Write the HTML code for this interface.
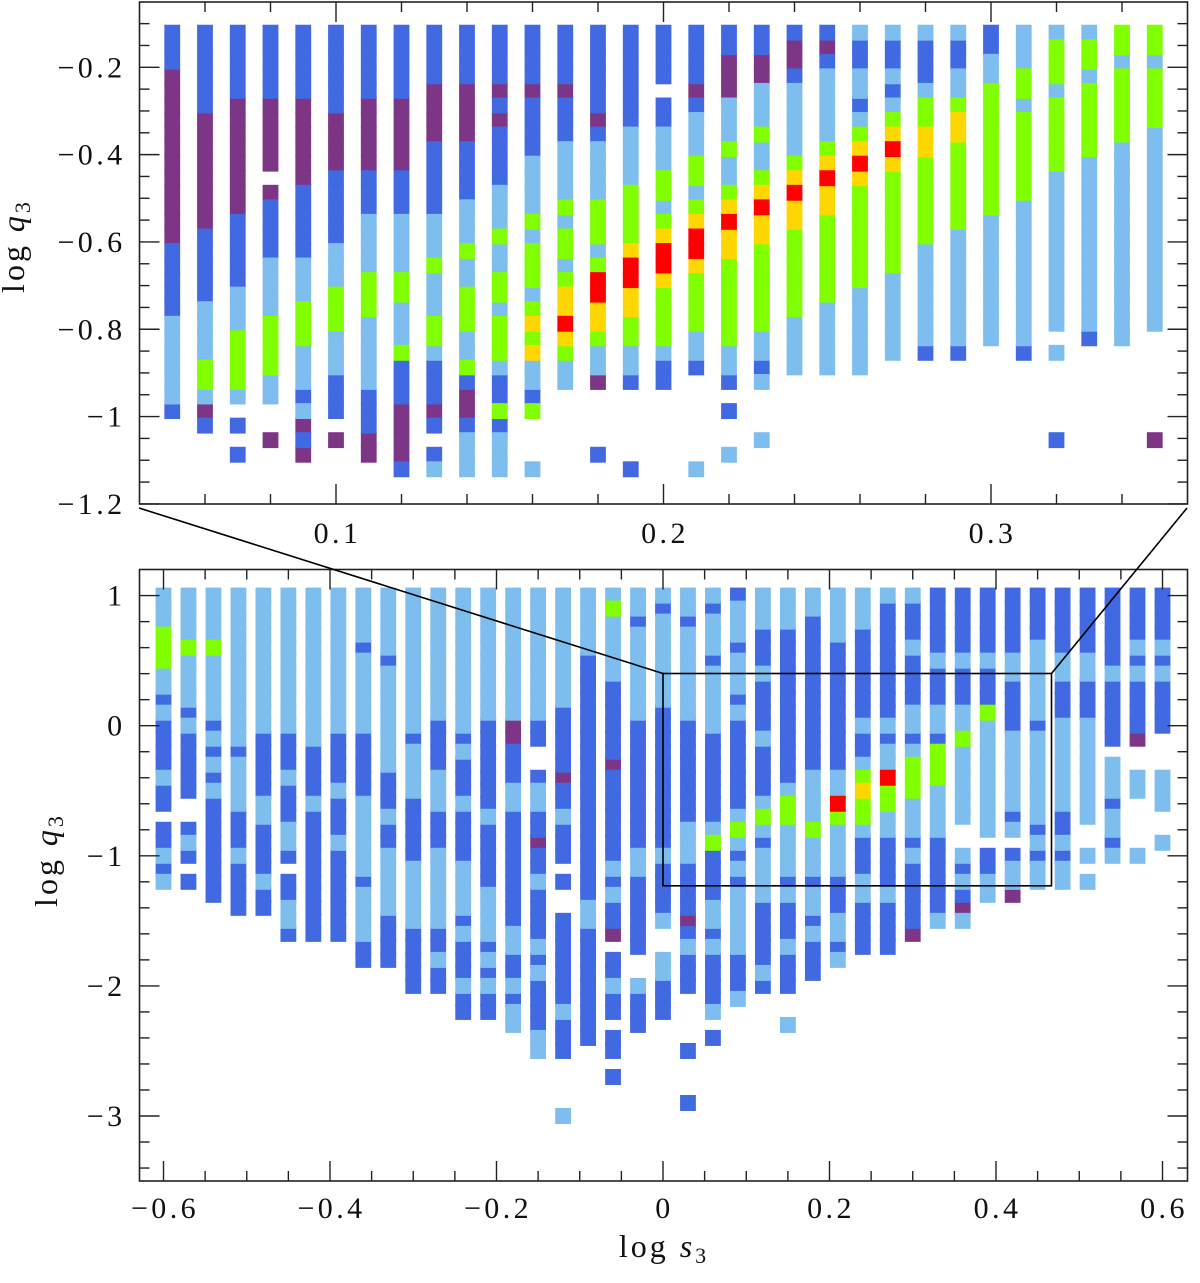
<!DOCTYPE html>
<html lang="en">
<head>
<meta charset="utf-8">
<title>log q3 versus log s3 regime map</title>
<style>
html,body{margin:0;padding:0;background:#fff;}
svg{display:block;}
text{font-family:"Liberation Serif",serif;fill:#111;}
.tick-label{font-size:30px;letter-spacing:3.4px;}
.axis-title{font-size:32px;letter-spacing:3px;}
.sub{font-size:22px;}
</style>
</head>
<body>
<svg id="chart" xmlns="http://www.w3.org/2000/svg" width="1200" height="1283" viewBox="0 0 1200 1283">
  <g id="top-cells"></g>
  <g id="bottom-cells"></g>
  <rect x="139.5" y="2" width="1048" height="502" fill="none" stroke="#222" stroke-width="1.6"/>
  <rect x="139.5" y="569.5" width="1048" height="611.5" fill="none" stroke="#222" stroke-width="1.6"/>
  <g id="top-axes"></g>
  <g id="bottom-axes"></g>
  <rect x="663" y="673.5" width="388.5" height="212.3" fill="none" stroke="#000" stroke-width="1.6"/>
  <line x1="139" y1="508" x2="663" y2="673.5" stroke="#000" stroke-width="1.6"/>
  <line x1="1187" y1="508" x2="1051.5" y2="673.5" stroke="#000" stroke-width="1.6"/>
  <text class="axis-title" transform="translate(24,246) rotate(-90)" text-anchor="middle">log <tspan font-style="italic">q</tspan><tspan class="sub" dy="6">3</tspan></text>
  <text class="axis-title" transform="translate(57,860) rotate(-90)" text-anchor="middle">log <tspan font-style="italic">q</tspan><tspan class="sub" dy="6">3</tspan></text>
  <text class="axis-title" x="664" y="1257" text-anchor="middle">log <tspan font-style="italic">s</tspan><tspan class="sub" dy="6">3</tspan></text>
</svg>
<script>
// class codes: 1 purple, 2 blue, 3 light blue, 4 green, 5 gold, 6 red
// each run: [firstRow, lastRow, classCode]
const topS = [0.05,0.06,0.07,0.08,0.09,0.10,0.11,0.12,0.13,0.14,0.15,0.16,0.17,0.18,0.19,0.20,0.21,0.22,0.23,0.24,0.25,0.26,0.27,0.28,0.29,0.30,0.31,0.32,0.33,0.34,0.35];
const topQ = [-0.1207,-0.1540,-0.1874,-0.2207,-0.2540,-0.2874,-0.3207,-0.3540,-0.3874,-0.4207,-0.4540,-0.4874,-0.5207,-0.5540,-0.5874,-0.6207,-0.6540,-0.6874,-0.7207,-0.7540,-0.7874,-0.8207,-0.8540,-0.8874,-0.9207,-0.9540,-0.9874,-1.0207,-1.0540,-1.0874,-1.1207];
const topRuns = [
[[0,2,2],[3,14,1],[15,19,2],[20,25,3],[26,26,2]],
[[0,5,2],[6,13,1],[14,18,2],[19,22,3],[23,24,4],[25,25,3],[26,26,1],[27,27,2]],
[[0,4,2],[5,12,1],[13,17,2],[18,20,3],[21,24,4],[25,25,3],[27,27,2],[29,29,2]],
[[0,4,2],[5,9,1],[11,11,1],[12,15,2],[16,19,3],[20,23,4],[24,25,3],[28,28,1]],
[[0,4,2],[5,10,1],[11,15,2],[16,18,3],[19,21,4],[22,24,3],[25,25,2],[26,26,3],[27,27,1],[28,28,2],[29,29,1]],
[[0,5,2],[6,9,1],[10,14,2],[15,17,3],[18,20,4],[21,23,3],[24,26,2],[28,28,1]],
[[0,4,2],[5,9,1],[10,12,2],[13,16,3],[17,19,4],[20,24,3],[25,27,2],[28,29,1]],
[[0,4,2],[5,9,1],[10,12,2],[13,16,3],[17,18,4],[19,21,3],[22,22,4],[23,25,2],[26,29,1],[30,30,2]],
[[0,3,2],[4,7,1],[8,12,2],[13,15,3],[16,16,4],[17,19,3],[20,21,4],[22,22,3],[23,25,2],[26,26,1],[27,27,2],[29,29,2],[30,30,3]],
[[0,3,2],[4,7,1],[8,11,2],[12,14,3],[15,15,4],[16,17,3],[18,20,4],[21,22,3],[23,23,4],[24,24,2],[25,26,1],[27,27,2],[28,30,3]],
[[0,3,2],[4,4,1],[5,5,2],[6,6,1],[7,10,2],[11,13,3],[14,14,4],[15,16,3],[17,18,4],[19,19,3],[20,22,4],[23,23,3],[24,25,2],[26,26,4],[27,27,2],[28,30,3]],
[[0,3,2],[4,4,1],[5,8,2],[9,12,3],[13,13,4],[14,14,3],[15,17,4],[18,18,3],[19,19,4],[20,20,5],[21,21,4],[22,22,5],[23,24,3],[25,25,2],[26,26,4],[30,30,3]],
[[0,3,2],[4,4,1],[5,7,2],[8,11,3],[12,12,4],[13,13,3],[14,15,4],[16,16,3],[17,17,4],[18,19,5],[20,20,6],[21,21,5],[22,22,4],[23,24,3]],
[[0,5,2],[6,6,1],[7,7,2],[8,11,3],[12,14,4],[15,15,3],[16,16,4],[17,18,6],[19,20,5],[21,21,4],[22,23,3],[24,24,1],[29,29,2]],
[[0,6,2],[7,10,3],[11,14,4],[15,15,5],[16,17,6],[18,19,5],[20,21,4],[22,23,3],[24,24,2],[30,30,2]],
[[0,3,2],[5,6,2],[7,9,3],[10,11,4],[12,12,3],[13,13,4],[14,14,5],[15,16,6],[17,17,5],[18,21,4],[22,22,3],[23,24,2]],
[[0,3,2],[4,4,1],[5,5,2],[6,8,3],[9,10,4],[11,11,3],[12,12,4],[13,13,5],[14,15,6],[16,16,5],[17,20,4],[21,22,3],[23,23,2],[30,30,3]],
[[0,1,2],[2,4,1],[5,7,3],[8,8,4],[9,10,3],[11,11,4],[12,12,5],[13,13,6],[14,15,5],[16,21,4],[22,23,3],[24,24,2],[26,26,2],[29,29,3]],
[[0,1,2],[2,3,1],[4,6,3],[7,7,4],[8,9,3],[10,10,4],[11,11,5],[12,12,6],[13,14,5],[15,20,4],[21,22,3],[23,23,2],[24,24,3],[28,28,3]],
[[0,0,2],[1,2,1],[3,3,2],[4,8,3],[9,9,4],[10,10,5],[11,11,6],[12,13,5],[14,19,4],[20,23,3]],
[[0,0,2],[1,1,1],[2,2,2],[3,7,3],[8,8,4],[9,9,5],[10,10,6],[11,12,5],[13,18,4],[19,23,3]],
[[0,0,3],[1,2,2],[3,4,3],[5,5,2],[6,6,3],[7,7,4],[8,8,5],[9,9,6],[10,10,5],[11,17,4],[18,23,3]],
[[0,0,3],[1,2,2],[3,3,3],[4,4,2],[5,5,3],[6,6,4],[7,7,5],[8,8,6],[9,9,5],[10,16,4],[17,22,3]],
[[0,0,3],[1,3,2],[4,4,3],[5,6,4],[7,8,5],[9,14,4],[15,21,3],[22,22,2]],
[[0,0,3],[1,2,2],[3,4,3],[5,5,4],[6,7,5],[8,13,4],[14,21,3],[22,22,2]],
[[0,1,2],[2,3,3],[4,12,4],[13,21,3]],
[[0,2,3],[3,4,4],[5,5,3],[6,11,4],[12,21,3],[22,22,2]],
[[0,0,3],[1,3,4],[4,4,3],[5,9,4],[10,20,3],[22,22,3],[28,28,2]],
[[0,0,3],[1,2,4],[3,3,3],[4,8,4],[9,20,3],[21,21,2]],
[[0,1,4],[2,2,3],[3,7,4],[8,21,3]],
[[0,1,4],[2,2,3],[3,6,4],[7,20,3],[28,28,1]]
];

const bottomS = [-0.60,-0.57,-0.54,-0.51,-0.48,-0.45,-0.42,-0.39,-0.36,-0.33,-0.30,-0.27,-0.24,-0.21,-0.18,-0.15,-0.12,-0.09,-0.06,-0.03,0,0.03,0.06,0.09,0.12,0.15,0.18,0.21,0.24,0.27,0.30,0.33,0.36,0.39,0.42,0.45,0.48,0.51,0.54,0.57,0.60];
const bottomQ = [1.0,0.9,0.8,0.7,0.6,0.5,0.4,0.3,0.2,0.1,0,-0.1,-0.2,-0.3,-0.4,-0.5,-0.6,-0.7,-0.8,-0.9,-1.0,-1.1,-1.2,-1.3,-1.4,-1.5,-1.6,-1.7,-1.8,-1.9,-2.0,-2.1,-2.2,-2.3,-2.4,-2.5,-2.6,-2.7,-2.8,-2.9,-3.0];
const bottomRuns = [
[[0,2,3],[3,5,4],[6,7,3],[8,8,2],[9,9,3],[10,13,2],[14,14,3],[15,16,2],[18,19,2],[20,20,3],[21,21,2],[22,22,3]],
[[0,3,3],[4,4,4],[5,8,3],[9,9,2],[10,10,3],[11,15,2],[18,18,2],[19,19,3],[20,20,2],[22,22,2]],
[[0,3,3],[4,4,4],[5,9,3],[10,10,2],[11,11,3],[12,12,2],[13,13,3],[14,14,2],[15,15,3],[16,23,2]],
[[0,11,3],[12,12,2],[13,16,3],[17,19,2],[20,20,3],[21,24,2]],
[[0,10,3],[11,15,2],[16,17,3],[18,21,2],[22,22,3],[23,24,2]],
[[0,10,3],[11,13,2],[14,14,3],[15,17,2],[18,19,3],[20,20,2],[22,23,2],[24,25,3],[26,26,2]],
[[0,11,3],[12,15,2],[16,16,3],[17,26,2]],
[[0,10,3],[11,14,2],[15,15,3],[16,18,2],[19,19,3],[20,26,2]],
[[0,3,3],[4,4,2],[5,10,3],[11,15,2],[16,21,3],[22,22,2],[23,26,3],[27,28,2]],
[[0,4,3],[5,5,2],[6,13,3],[14,16,2],[17,17,3],[18,19,2],[20,24,3],[25,28,2]],
[[0,10,3],[11,11,2],[12,15,3],[16,20,2],[21,25,3],[26,30,2]],
[[0,9,3],[10,13,2],[14,16,3],[17,19,2],[20,25,3],[26,27,2],[28,28,3],[29,30,2]],
[[0,10,3],[11,11,2],[12,12,3],[13,15,2],[16,16,3],[17,20,2],[21,24,3],[25,25,2],[26,26,3],[27,29,2],[30,30,3],[31,32,2]],
[[0,9,3],[10,16,2],[17,17,3],[18,22,2],[23,26,3],[27,27,2],[28,28,3],[29,29,2],[30,30,3],[31,32,2]],
[[0,9,3],[10,11,1],[12,14,2],[15,16,3],[17,25,2],[26,27,3],[28,29,2],[30,30,3],[31,31,2],[32,33,3]],
[[0,9,3],[10,11,2],[14,14,2],[15,16,3],[17,18,2],[19,19,1],[20,21,2],[22,22,3],[23,26,2],[27,27,3],[28,28,2],[29,29,3],[30,33,2],[34,35,3]],
[[0,8,3],[9,13,2],[14,14,1],[15,16,2],[17,17,3],[18,20,2],[22,22,2],[25,31,2],[32,32,3],[33,35,2],[40,40,3]],
[[0,4,3],[5,23,2],[24,25,3],[26,34,2]],
[[0,0,3],[1,1,4],[2,6,3],[7,12,2],[13,13,1],[14,20,2],[21,21,3],[22,22,2],[23,23,3],[24,25,2],[26,26,1],[28,29,2],[30,30,3],[31,32,2],[34,35,2],[37,37,2]],
[[0,1,3],[2,2,2],[3,9,3],[10,19,2],[20,21,3],[22,27,2],[30,30,3],[31,33,2]],
[[0,0,3],[1,1,2],[2,8,3],[9,19,2],[20,20,3],[21,24,2],[25,25,3],[28,29,3],[30,32,2]],
[[0,1,3],[2,2,2],[3,9,3],[10,17,2],[18,20,3],[21,24,2],[25,25,1],[26,26,2],[27,27,3],[28,30,2],[35,35,2],[39,39,2]],
[[0,0,3],[1,1,2],[2,4,3],[5,5,2],[6,10,3],[11,17,2],[18,18,3],[19,19,4],[20,23,2],[24,25,3],[26,26,2],[27,27,3],[28,31,2],[32,32,3],[34,34,2]],
[[0,0,2],[1,3,3],[4,4,2],[5,7,3],[8,8,2],[9,9,3],[10,16,2],[17,17,3],[18,18,4],[19,19,3],[20,20,2],[21,21,3],[22,22,2],[23,27,3],[28,30,2],[31,31,3]],
[[0,2,3],[3,5,2],[6,6,3],[7,10,2],[11,11,3],[12,15,2],[16,16,3],[17,17,4],[18,18,3],[19,19,2],[20,23,3],[24,28,2],[29,29,3],[30,30,2]],
[[0,2,3],[3,14,2],[15,15,3],[16,17,4],[18,21,3],[22,22,2],[23,23,3],[24,26,2],[27,27,3],[28,30,2],[33,33,3]],
[[0,1,3],[2,13,2],[14,17,3],[18,18,4],[19,21,3],[22,22,2],[23,24,3],[25,25,2],[26,26,3],[27,29,2]],
[[0,3,3],[4,13,2],[14,15,3],[16,16,6],[17,17,4],[18,21,3],[22,24,2],[25,26,3],[27,27,2],[28,28,3]],
[[0,2,3],[3,9,2],[10,10,3],[11,12,2],[13,13,3],[14,14,4],[15,15,5],[16,17,4],[18,18,3],[19,21,2],[22,23,3],[24,27,2]],
[[0,0,3],[1,9,2],[10,10,3],[11,11,2],[12,13,3],[14,14,6],[15,16,4],[17,18,3],[19,22,2],[23,23,3],[24,27,2]],
[[0,0,3],[1,3,2],[4,4,3],[5,8,2],[9,10,3],[11,11,2],[12,12,3],[13,15,4],[16,18,3],[19,19,2],[20,20,3],[21,25,2],[26,26,1]],
[[0,4,2],[5,5,3],[6,8,2],[9,10,3],[11,11,2],[12,14,4],[15,18,3],[19,24,2],[25,25,3]],
[[0,4,2],[5,5,3],[6,8,2],[9,10,3],[11,11,4],[12,17,3],[20,20,3],[21,21,2],[22,22,3],[23,23,2],[24,24,1],[25,25,3]],
[[0,4,2],[5,5,3],[6,8,2],[9,9,4],[10,18,3],[20,21,2],[22,23,3]],
[[0,4,2],[5,6,3],[7,10,2],[11,16,3],[17,17,2],[18,18,3],[20,20,2],[21,22,3],[23,23,1]],
[[0,3,2],[4,9,3],[10,10,2],[11,17,3],[18,18,2],[19,19,3],[20,20,2],[21,22,3]],
[[0,4,2],[5,6,3],[7,9,2],[10,16,3],[17,18,2],[19,19,3],[20,20,2],[21,22,3]],
[[0,4,2],[5,6,3],[7,9,2],[10,17,3],[20,20,3],[22,22,3]],
[[0,5,2],[6,6,3],[7,11,2],[13,15,3],[16,16,2],[17,18,3],[19,19,2],[20,20,3]],
[[0,3,2],[4,4,3],[5,5,2],[6,6,3],[7,10,2],[11,11,1],[14,15,3],[20,20,3]],
[[0,3,2],[4,4,3],[5,5,2],[6,6,3],[7,10,2],[14,16,3],[19,19,3]]
];

const topXMajor = [0.1,0.2,0.3];
const topXMinor = [0.06,0.08,0.12,0.14,0.16,0.18,0.22,0.24,0.26,0.28,0.32,0.34];
const topYMajor = [-0.2,-0.4,-0.6,-0.8,-1,-1.2];
const topYMinor = [-0.1,-0.15,-0.25,-0.3,-0.35,-0.45,-0.5,-0.55,-0.65,-0.7,-0.75,-0.85,-0.9,-0.95,-1.05,-1.1,-1.15];
const topXLabels = ['0.1','0.2','0.3'];
const topYLabels = ['\u22120.2','\u22120.4','\u22120.6','\u22120.8','\u22121','\u22121.2'];

const bottomXMajor = [-0.6,-0.4,-0.2,0,0.2,0.4,0.6];
const bottomXMinor = [-0.55,-0.5,-0.45,-0.35,-0.3,-0.25,-0.15,-0.1,-0.05,0.05,0.1,0.15,0.25,0.3,0.35,0.45,0.5,0.55];
const bottomYMajor = [1,0,-1,-2,-3];
const bottomYMinor = [0.8,0.6,0.4,0.2,-0.2,-0.4,-0.6,-0.8,-1.2,-1.4,-1.6,-1.8,-2.2,-2.4,-2.6,-2.8,-3.2,-3.4];
const bottomXLabels = ['\u22120.6','\u22120.4','\u22120.2','0','0.2','0.4','0.6'];
const bottomYLabels = ['1','0','\u22121','\u22122','\u22123'];

const classColors = {1:'#7D3586',2:'#4169E1',3:'#7EBEEE',4:'#7FFF00',5:'#FFD700',6:'#FF0000'};
const drawOrder = [1,2,3,4,5,6];
const SVGNS = 'http://www.w3.org/2000/svg';

const topXScale = v => 139.5 + (v - 0.04) * 3275;
const topYScale = v => 67.3 + (-0.2 - v) * 436.6;
const bottomXScale = v => 663 + v * 832.5;
const bottomYScale = v => 725.7 - v * 130.1;

const topPanel = {left:139.5,right:1187.5,top:2,bottom:504};
const bottomPanel = {left:139.5,right:1187.5,top:569.5,bottom:1181};

function drawCells(groupId, sVals, qVals, runs, xScale, yScale, w, h) {
  const g = document.getElementById(groupId);
  drawOrder.forEach(code => {
    runs.forEach((col, ci) => {
      col.forEach(run => {
        if (run[2] !== code) return;
        for (let r = run[0]; r <= run[1]; r++) {
          const el = document.createElementNS(SVGNS, 'rect');
          el.setAttribute('x', xScale(sVals[ci]) - w / 2);
          el.setAttribute('y', yScale(qVals[r]) - h / 2);
          el.setAttribute('width', w);
          el.setAttribute('height', h);
          el.setAttribute('fill', classColors[code]);
          
          
          g.appendChild(el);
        }
      });
    });
  });
}

function drawTicks(groupId, panel, xScale, yScale, xMajor, xMinor, yMajor, yMinor, xLabels, yLabels, xLabelY) {
  const g = document.getElementById(groupId);
  function segment(x1, y1, x2, y2) {
    const el = document.createElementNS(SVGNS, 'line');
    el.setAttribute('x1', x1);
    el.setAttribute('y1', y1);
    el.setAttribute('x2', x2);
    el.setAttribute('y2', y2);
    el.setAttribute('stroke', '#222');
    el.setAttribute('stroke-width', 1.4);
    
    
    g.appendChild(el);
  }
  xMajor.forEach(v => {
    const x = xScale(v);
    segment(x, panel.top, x, panel.top + 20);
    segment(x, panel.bottom, x, panel.bottom - 20);
  });
  xMinor.forEach(v => {
    const x = xScale(v);
    segment(x, panel.top, x, panel.top + 10);
    segment(x, panel.bottom, x, panel.bottom - 10);
  });
  yMajor.forEach(v => {
    const y = yScale(v);
    segment(panel.left, y, panel.left + 20, y);
    segment(panel.right, y, panel.right - 20, y);
  });
  yMinor.forEach(v => {
    const y = yScale(v);
    segment(panel.left, y, panel.left + 10, y);
    segment(panel.right, y, panel.right - 10, y);
  });
  xMajor.forEach((v, i) => {
    const el = document.createElementNS(SVGNS, 'text');
    el.setAttribute('class', 'tick-label');
    el.setAttribute('x', xScale(v) + 1.5);
    el.setAttribute('y', xLabelY);
    el.setAttribute('text-anchor', 'middle');
    
    
    el.textContent = xLabels[i];
    g.appendChild(el);
  });
  yMajor.forEach((v, i) => {
    const el = document.createElementNS(SVGNS, 'text');
    el.setAttribute('class', 'tick-label');
    el.setAttribute('x', 125.5);
    el.setAttribute('y', yScale(v) + 10);
    el.setAttribute('text-anchor', 'end');
    
    
    el.textContent = yLabels[i];
    g.appendChild(el);
  });
}

drawCells('top-cells', topS, topQ, topRuns, topXScale, topYScale, 15.8, 15.9);
drawCells('bottom-cells', bottomS, bottomQ, bottomRuns, bottomXScale, bottomYScale, 15.8, 16);
drawTicks('top-axes', topPanel, topXScale, topYScale, topXMajor, topXMinor, topYMajor, topYMinor, topXLabels, topYLabels, 543);
drawTicks('bottom-axes', bottomPanel, bottomXScale, bottomYScale, bottomXMajor, bottomXMinor, bottomYMajor, bottomYMinor, bottomXLabels, bottomYLabels, 1218);
</script>
</body>
</html>
